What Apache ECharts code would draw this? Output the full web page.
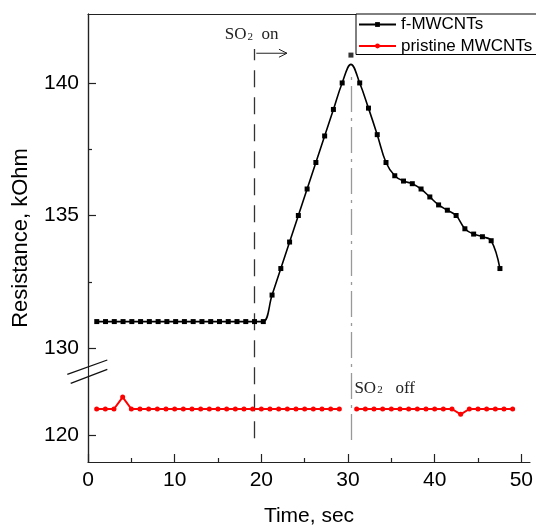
<!DOCTYPE html>
<html><head><meta charset="utf-8">
<script src="https://cdn.jsdelivr.net/npm/echarts@6/dist/echarts.min.js"></script>
<style>html,body{margin:0;padding:0;background:#fff}#c{width:536px;height:530px}</style>
</head><body><div id="c"></div>
<script>
// ---- data ----
const fTime = [1,2,3,4,5,6,7,8,9,10,11,12,13,14,15,16,17,18,19,20,21,22,23,24,25,26,27,28,29,30,31,32,33,34,35,36,37,38,39,40,41,42,43,44,45,46,47];
const fValues = [131,131,131,131,131,131,131,131,131,131,131,131,131,131,131,131,131,131,131,131,
  132,133,134,135,136,137,138,139,140,141.05,140,139.05,138.05,137,136.5,136.3,136.2,136,135.7,135.4,135.2,135,134.5,134.3,134.2,134.05,133];
const fCurvePeak = 140.7; // top of the smoothed curve at t = 30
const rTime = [1,2,3,4,5,6,7,8,9,10,11,12,13,14,15,16,17,18,19,20,21,22,23,24,25,26,27,28,29,30,31,32,33,34,35,36,37,38,39,40,41,42,43,44,45,46,47,48,49];
const rValues = [121,121,121,121.45,121,121,121,121,121,121,121,121,121,121,121,121,121,121,121,121,121,121,121,121,121,121,121,121,121,null,
  121,121,121,121,121,121,121,121,121,121,121,121,120.8,121,121,121,121,121,121];
const xTicks = [0,10,20,30,40,50];
const xMinorTicks = [5,15,25,35,45];
const yUpperTicks = [130,135,140];
const yUpperMinorTicks = [132.5,137.5];
const yLowerTicks = [120];
const eventOn = 19, eventOff = 30;

const FONT = '"Liberation Sans", Arial, sans-serif';
const SERIF = '"Liberation Serif", "Times New Roman", serif';
const AX = '#222';

const chart = echarts.init(document.getElementById('c'), null, {renderer: 'canvas'});

const fCurveData = fTime.map((t, i) => t === 30 ? {value: [t, fCurvePeak], symbol: 'none'} : [t, fValues[i]]);
const fPeakData = [[30, fValues[fTime.indexOf(30)]]];
const rData = rTime.map((t, i) => [t, rValues[i] === null ? '-' : rValues[i]]);

const lbl = {color: '#000', fontSize: 21, fontFamily: FONT};
const option = {
  animation: false,
  backgroundColor: '#fff',
  grid: [
    {left: 88, right: 1, top: 14, height: 350},
    {left: 88, right: 1, top: 378, height: 84},
    {left: 88, right: 1, top: 14, height: 448}
  ],
  xAxis: [
    {gridIndex: 0, type: 'value', min: 0, max: 51, position: 'top',
     axisLine: {show: true, lineStyle: {color: AX, width: 1.2}}, axisTick: {show: false}, axisLabel: {show: false}, splitLine: {show: false}},
    {gridIndex: 1, type: 'value', min: 0, max: 51, position: 'bottom',
     name: 'Time, sec', nameLocation: 'middle', nameGap: 44, nameTextStyle: {color: '#000', fontSize: 21, fontFamily: FONT},
     axisLine: {show: true, lineStyle: {color: AX, width: 1.2}},
     axisTick: {show: true, inside: true, length: 8, customValues: xTicks, lineStyle: {color: AX, width: 1.2}},
     axisLabel: Object.assign({show: true, margin: 8, customValues: xTicks}, lbl), splitLine: {show: false}},
    {gridIndex: 1, type: 'value', min: 0, max: 51, position: 'bottom',
     axisLine: {show: false}, axisTick: {show: true, inside: true, length: 4, customValues: xMinorTicks, lineStyle: {color: AX, width: 1.2}},
     axisLabel: {show: false}, splitLine: {show: false}},
    {gridIndex: 2, type: 'value', min: 0, max: 51, show: false}
  ],
  yAxis: [
    {gridIndex: 0, type: 'value', min: 129.4, max: 142.6, position: 'left',
     axisLine: {show: true, lineStyle: {color: AX, width: 1.2}},
     axisTick: {show: true, inside: true, length: 8, customValues: yUpperTicks, lineStyle: {color: AX, width: 1.2}},
     axisLabel: Object.assign({show: true, margin: 9, customValues: yUpperTicks}, lbl), splitLine: {show: false}},
    {gridIndex: 0, type: 'value', min: 129.4, max: 142.6, position: 'left',
     axisLine: {show: false}, axisTick: {show: true, inside: true, length: 4, customValues: yUpperMinorTicks, lineStyle: {color: AX, width: 1.2}},
     axisLabel: {show: false}, splitLine: {show: false}},
    {gridIndex: 1, type: 'value', min: 119, max: 122.17, position: 'left',
     axisLine: {show: true, lineStyle: {color: AX, width: 1.2}},
     axisTick: {show: true, inside: true, length: 8, customValues: yLowerTicks, lineStyle: {color: AX, width: 1.2}},
     axisLabel: Object.assign({show: true, margin: 9, customValues: yLowerTicks}, lbl), splitLine: {show: false}},
    {gridIndex: 2, type: 'value', min: 0, max: 1, position: 'right',
     axisLine: {show: true, lineStyle: {color: AX, width: 1.2}}, axisTick: {show: false}, axisLabel: {show: false}, splitLine: {show: false}},
    {gridIndex: 2, type: 'value', min: 0, max: 1, position: 'left',
     name: 'Resistance, kOhm', nameLocation: 'middle', nameGap: 56, nameTextStyle: {color: '#000', fontSize: 22, fontFamily: FONT},
     axisLine: {show: false}, axisTick: {show: false}, axisLabel: {show: false}, splitLine: {show: false}}
  ],
  legend: {
    data: ['f-MWCNTs', 'pristine MWCNTs'],
    orient: 'vertical', left: 356, top: 14,
    padding: [2, 20, 0, 2], itemGap: 4.5,
    itemWidth: 37, itemHeight: 6,
    borderColor: '#000', borderWidth: 1, backgroundColor: '#fff',
    textStyle: {color: '#000', fontSize: 17, fontFamily: FONT, lineHeight: 17}
  },
  series: [
    {name: 'f-MWCNTs', type: 'line', xAxisIndex: 0, yAxisIndex: 0, data: fCurveData,
     smooth: 0.4, symbol: 'rect', symbolSize: 5, showAllSymbol: true,
     itemStyle: {color: '#000'}, lineStyle: {color: '#000', width: 1.6}, z: 5},
    {type: 'scatter', xAxisIndex: 0, yAxisIndex: 0, data: fPeakData,
     symbol: 'rect', symbolSize: 5, itemStyle: {color: '#000'}, z: 5},
    {name: 'pristine MWCNTs', type: 'line', xAxisIndex: 1, yAxisIndex: 2, data: rData,
     symbol: 'circle', symbolSize: 5, showAllSymbol: true, connectNulls: false,
     itemStyle: {color: '#ff0000'}, lineStyle: {color: '#ff0000', width: 2}, z: 5},
    {type: 'line', xAxisIndex: 3, yAxisIndex: 3, data: [[0, -1]], symbol: 'none', silent: true, z: 2,
     markLine: {symbol: 'none', silent: true, label: {show: false}, animation: false,
       data: [
         [{coord: [eventOn, 0.053], lineStyle: {color: '#333', width: 1.3, type: [17, 10]}}, {coord: [eventOn, 0.922]}],
         [{coord: [eventOff, 0.049], lineStyle: {color: '#999', width: 1.3, type: [26, 6, 3, 6]}}, {coord: [eventOff, 0.87]}]
       ]}}
  ]
};
chart.setOption(option);

// annotations placed in data coordinates
const up = (p) => chart.convertToPixel({xAxisIndex: 0, yAxisIndex: 0}, p);
const lo = (p) => chart.convertToPixel({xAxisIndex: 1, yAxisIndex: 2}, p);
const a0 = up([19.2, 141.12]), a1 = up([22.7, 141.12]);
const tOn = up([15.6, 141.82]);
const tOff = lo([30.74, 121.77]);
const rich = {
  a: {fontSize: 17, fontFamily: SERIF, fill: '#222', color: '#222'},
  b: {fontSize: 11, fontFamily: SERIF, fill: '#222', color: '#222', padding: [4, 0, 0, 1]}
};
chart.setOption({
  graphic: [
    {type: 'line', shape: {x1: a0[0], y1: a0[1], x2: a1[0], y2: a1[1]}, style: {stroke: '#222', lineWidth: 1}, z: 10},
    {type: 'polyline', shape: {points: [[a1[0] - 8, a1[1] - 4], [a1[0], a1[1]], [a1[0] - 8, a1[1] + 4]]}, style: {stroke: '#222', lineWidth: 1, fill: null}, z: 10},
    {type: 'text', x: tOn[0], y: tOn[1], style: {text: '{a|SO}{b|2}{a|  on}', rich: rich, verticalAlign: 'middle', align: 'left'}, z: 10},
    {type: 'text', x: tOff[0], y: tOff[1], style: {text: '{a|SO}{b|2}{a|   off}', rich: rich, verticalAlign: 'middle', align: 'left'}, z: 10},
    // axis break marks
    {type: 'line', shape: {x1: 67.3, y1: 374.3, x2: 107.3, y2: 360}, style: {stroke: '#111', lineWidth: 1.3}, z: 10},
    {type: 'line', shape: {x1: 70.7, y1: 383.3, x2: 107.3, y2: 369.3}, style: {stroke: '#111', lineWidth: 1.3}, z: 10}
  ]
});
</script>
</body></html>
